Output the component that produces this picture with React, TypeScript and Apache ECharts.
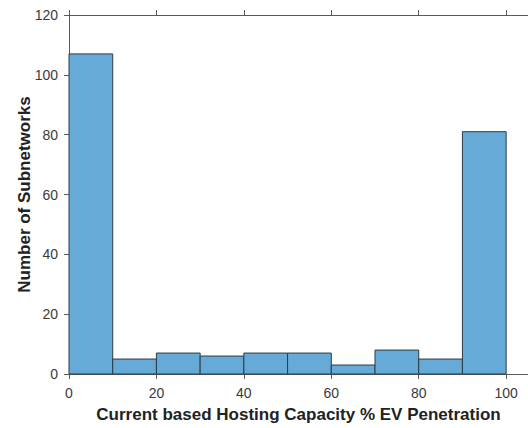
import React, { useEffect, useRef } from "react";
import * as echarts from "echarts";

const binEdges = [0, 10, 20, 30, 40, 50, 60, 70, 80, 90, 100];
const counts = [107, 5, 7, 6, 7, 7, 3, 8, 5, 81];
const xTicks = [0, 20, 40, 60, 80, 100];
const yTicks = [0, 20, 40, 60, 80, 100, 120];
const xTitle = "Current based Hosting Capacity % EV Penetration";
const yTitle = "Number of Subnetworks";

export default function App() {
  const ref = useRef<HTMLDivElement>(null);
  useEffect(() => {
    if (!ref.current) return;
    const chart = echarts.init(ref.current, undefined, { renderer: "svg" });
    const data = counts.map((c, i) => [binEdges[i], binEdges[i + 1], c]);
    const axisColor = "#5a5a5a";
    const labelColor = "#3a3a3a";
    const font = "'Liberation Sans', Arial, Helvetica, sans-serif";
    chart.setOption({
      animation: false,
      backgroundColor: "#ffffff",
      grid: { left: 69, right: -1, top: 15, bottom: 52, containLabel: false },
      xAxis: [
        {
          type: "value",
          position: "bottom",
          min: xTicks[0],
          max: 105,
          interval: 20,
          splitLine: { show: false },
          axisLine: { show: true, onZero: false, lineStyle: { color: axisColor, width: 1 } },
          axisTick: { show: true, inside: false, length: 5, lineStyle: { color: axisColor } },
          axisLabel: {
            show: true,
            showMaxLabel: false,
            margin: 12,
            color: labelColor,
            fontSize: 14,
            fontFamily: font,
            formatter: (v: number) => (xTicks.includes(v) ? String(v) : ""),
          },
          name: xTitle,
          nameLocation: "middle",
          nameGap: 32,
          nameMoveOverlap: false,
          nameTextStyle: { color: "#222", fontSize: 17, fontWeight: "bold", fontFamily: font },
        },
        {
          type: "value",
          position: "top",
          min: xTicks[0],
          max: 105,
          interval: 20,
          splitLine: { show: false },
          axisLine: { show: true, onZero: false, lineStyle: { color: axisColor, width: 1 } },
          axisTick: { show: true, inside: false, length: 5, lineStyle: { color: axisColor } },
          axisLabel: { show: false },
        },
      ],
      yAxis: {
        type: "value",
        min: yTicks[0],
        max: yTicks[yTicks.length - 1],
        interval: 20,
        splitLine: { show: false },
        axisLine: { show: true, onZero: false, lineStyle: { color: axisColor, width: 1 } },
        axisTick: { show: true, inside: false, length: 5, lineStyle: { color: axisColor } },
        axisLabel: { margin: 11, color: labelColor, fontSize: 14, fontFamily: font },
        name: yTitle,
        nameLocation: "middle",
        nameGap: 36,
        nameMoveOverlap: false,
        nameTextStyle: { color: "#222", fontSize: 17, fontWeight: "bold", fontFamily: font },
      },
      series: [
        {
          type: "custom",
          xAxisIndex: 0,
          yAxisIndex: 0,
          data,
          encode: { x: [0, 1], y: 2 },
          renderItem: (params: any, api: any) => {
            const p0 = api.coord([api.value(0), api.value(2)]);
            const p1 = api.coord([api.value(1), 0]);
            return {
              type: "rect",
              shape: { x: p0[0], y: p0[1], width: p1[0] - p0[0], height: p1[1] - p0[1] },
              style: { fill: "#66aad7", stroke: "#2e3a44", lineWidth: 1 },
            };
          },
        },
      ],
    });
    return () => chart.dispose();
  }, []);
  return (
    <div
      ref={ref}
      style={{ position: "fixed", left: 0, top: 0, width: 528, height: 428 }}
    />
  );
}
